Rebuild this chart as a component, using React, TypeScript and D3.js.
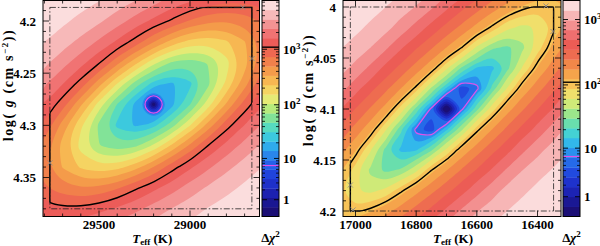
import React from 'react';
import * as d3 from 'd3';

// left map: Teff nodes (columns), log g nodes (rows), Δχ² per node
const teffLeft = [29800, 29700, 29600, 29500, 29400, 29300, 29200, 29100, 29000, 28900, 28800, 28700, 28600];
const loggLeft = [4.18, 4.2, 4.22, 4.24, 4.26, 4.28, 4.3, 4.32, 4.34, 4.36, 4.38, 4.4];
const chi2Left = [
  [7500, 6800, 6000, 5200, 4300, 3500, 2750, 2100, 1700, 1400, 1220, 1190, 1280],
  [6400, 5500, 4550, 3680, 2780, 2000, 1440, 1020, 700, 542, 505, 580, 780],
  [5100, 4090, 3110, 2190, 1480, 930, 500, 286, 196, 174, 212, 324, 585],
  [3780, 2730, 1810, 1130, 558, 253, 117, 66.5, 55.7, 71.6, 132, 286, 640],
  [2500, 1610, 930, 394, 152, 59, 27.5, 19.7, 28.8, 63.4, 165, 422, 990],
  [1570, 870, 356, 129, 46.3, 18.2, 0, 18.2, 46.3, 129, 356, 870, 1570],
  [990, 422, 165, 63.4, 28.8, 19.7, 27.5, 59, 152, 394, 930, 1610, 2500],
  [640, 286, 132, 71.6, 55.7, 66.5, 117, 253, 558, 1130, 1810, 2730, 3780],
  [585, 324, 212, 174, 196, 286, 500, 930, 1480, 2190, 3110, 4090, 5100],
  [780, 580, 505, 542, 700, 1020, 1440, 2000, 2780, 3680, 4550, 5500, 6400],
  [1280, 1190, 1220, 1400, 1700, 2100, 2750, 3500, 4300, 5200, 6000, 6800, 7500],
  [2040, 2070, 2240, 2580, 3040, 3660, 4290, 5060, 5820, 6570, 7200, 7880, 8580],
];

// right map
const teffRight = [17050, 17000, 16950, 16900, 16850, 16800, 16750, 16700, 16650, 16600, 16550, 16500, 16450, 16400, 16350, 16300];
const loggRight = [3.98, 4.0, 4.02, 4.04, 4.06, 4.08, 4.1, 4.12, 4.14, 4.16, 4.18, 4.2, 4.22];
const chi2Right = [
  [2110, 1970, 1810, 1670, 1490, 1280, 1100, 856, 649, 474, 355, 275, 214, 175, 154, 153],
  [1900, 1740, 1600, 1380, 1180, 958, 731, 525, 380, 283, 208, 154, 120, 103, 108, 131],
  [1680, 1510, 1280, 1090, 832, 609, 429, 310, 222, 154, 103, 67.4, 56, 65.2, 98.1, 148],
  [1410, 1200, 974, 729, 511, 358, 255, 172, 109, 56, 32.2, 27.8, 39.6, 73.7, 133, 204],
  [1120, 868, 634, 435, 306, 208, 131, 65.2, 27.8, 13.7, 13.3, 26.6, 63.1, 127, 204, 300],
  [785, 554, 382, 266, 173, 98.9, 39.9, 13.3, 3.24, 6.19, 23, 63.1, 133, 214, 316, 454],
  [496, 343, 235, 148, 73.7, 26.6, 6.19, 0, 6.19, 26.6, 73.7, 148, 235, 343, 496, 721],
  [316, 214, 133, 63.1, 23, 6.19, 3.24, 13.3, 39.9, 98.9, 173, 266, 382, 554, 785, 1060],
  [204, 127, 63.1, 26.6, 13.3, 13.7, 27.8, 65.2, 131, 208, 306, 435, 634, 868, 1120, 1330],
  [133, 73.7, 39.6, 27.8, 32.2, 56, 109, 172, 255, 358, 511, 729, 974, 1200, 1410, 1630],
  [98.1, 65.2, 56, 67.4, 103, 154, 222, 310, 429, 609, 832, 1090, 1280, 1510, 1680, 1830],
  [108, 103, 120, 154, 208, 283, 380, 525, 731, 958, 1180, 1380, 1600, 1740, 1900, 2050],
  [154, 175, 214, 275, 355, 474, 649, 856, 1100, 1280, 1490, 1670, 1810, 1970, 2110, 2250],
];

const teffTicksLeft = [29500, 29000];
const loggTicksLeft = [4.2, 4.25, 4.3, 4.35];
const teffTicksRight = [17000, 16800, 16600, 16400];
const loggTicksRight = [4, 4.05, 4.1, 4.15, 4.2];
const chi2Ticks = [1, 10, 100, 1000];

const chi2TopLeft = 7500;
const chi2TopRight = 1950;
const blackLevelLeft = 1090;
const blackLevelRight = 110;
const magentaLevel = 7.2;

// model grid edges (dash-dot box)
const gridTeffLeft = [29770, 28660];
const gridLoggLeft = [4.187, 4.38];
const gridTeffRight = [17017, 16347];
const gridLoggRight = [4.0, 4.2];

const marksLeft = [[29769, 4.336], [28659, 4.236], [28710, 4.187]];
const marksRight = [[17017, 4.1745], [17008, 4.199], [16372, 3.999], [16349, 4.024]];

const serif = '"Liberation Serif", "Times New Roman", serif';

const ramp = d3.scaleLinear<string>()
  .domain([0, 0.06, 0.12, 0.18, 0.24, 0.3, 0.35, 0.4, 0.45, 0.5, 0.55, 0.6, 0.65, 0.7, 0.75, 0.8, 0.85, 0.9, 0.95, 1])
  .range(['#1b0b68', '#1a168e', '#1c24b8', '#1f3ad8', '#2462e8', '#2b94ee', '#33c0ea', '#4ad8cc', '#7ae29c', '#b6ea7c',
    '#ecea74', '#f8cc5c', '#f6aa4c', '#f28a48', '#ee6c50', '#ec5a56', '#f07474', '#f49a9a', '#f8c6c6', '#fdeeee'])
  .interpolate(d3.interpolateRgb);

const Y0 = 0.5;
const Y1 = 216.5;

function minorTicks(a: number, b: number, step: number) {
  const lo = Math.min(a, b), hi = Math.max(a, b);
  return d3.range(Math.ceil(lo / step - 1e-6), Math.floor(hi / step + 1e-6) + 1).map(i => +(i * step).toFixed(4));
}

function Panel(p: any) {
  const x = d3.scaleLinear().domain(p.xRef).range(p.xPix);
  const y = d3.scaleLinear().domain(p.yRef).range(p.yPix);
  const nx = p.teff.length, ny = p.logg.length;
  const gx = d3.scaleLinear().domain([0.5, nx - 0.5]).range([x(p.teff[0]), x(p.teff[nx - 1])]);
  const gy = d3.scaleLinear().domain([0.5, ny - 0.5]).range([y(p.logg[0]), y(p.logg[ny - 1])]);
  // space in which the grid is contoured
  const warp = p.warp === 'log' ? (v: number) => Math.log10(1 + v) : (v: number) => Math.sqrt(v);
  const vals = p.chi2.flat().map((v: number) => -warp(v));
  const gen = d3.contours().size([nx, ny]);
  const line = d3.line().curve(p.warp === 'log' ? d3.curveBasisClosed : d3.curveCatmullRomClosed.alpha(0.5));
  const toPath = (level: number) => {
    const g = gen.contour(vals, -warp(level));
    return g.coordinates.map(poly => poly.map(ring =>
      line(ring.slice(0, -1).map(([a, b]) => [gx(a), gy(b)] as [number, number])) || '').join('')).join('');
  };

  const cb = d3.scaleSymlog().constant(1).domain([0, p.top]).range([Y1, Y0]);
  const n = p.bands;
  const bandH = (Y1 - Y0) / n;
  const edges = d3.range(n + 1).map(k => cb.invert(Y1 - k * bandH));
  const color = (k: number) => ramp((k + 0.5) / n);
  const fills = d3.range(n - 1, 0, -1).map(k => ({ d: toPath(edges[k]), fill: color(k - 1) }));
  const blackD = toPath(p.blackLevel);
  const magentaD = toPath(magentaLevel);

  const gxa = x(p.gridTeff[0]), gxb = x(p.gridTeff[1]);
  const gya = y(p.gridLogg[0]), gyb = y(p.gridLogg[1]);
  const box = { x: Math.min(gxa, gxb), y: Math.min(gya, gyb), width: Math.abs(gxb - gxa), height: Math.abs(gyb - gya) };

  const xMinor = minorTicks(x.invert(p.x0), x.invert(p.x1), p.xStep);
  const yMinor = minorTicks(y.invert(Y0), y.invert(Y1), p.yStep);
  const isMajor = (v: number, list: number[]) => list.some(t => Math.abs(t - v) < 1e-6);

  const cbMinor: number[] = [];
  [1, 10, 100, 1000].forEach(dec => d3.range(2, 10).forEach(m => { if (m * dec <= p.top) cbMinor.push(m * dec); }));

  const id = p.id;
  const tickLabel = (v: number) => v < 100 ? <tspan>{v}</tspan> : <tspan>10<tspan dy={-5} fontSize={9}>{Math.round(Math.log10(v))}</tspan></tspan>;

  return (
    <g>
      <defs>
        <clipPath id={`plot-${id}`}><rect x={p.x0} y={Y0} width={p.x1 - p.x0} height={Y1 - Y0} /></clipPath>
        <clipPath id={`grid-${id}`}><rect {...box} /></clipPath>
        <clipPath id={`black-${id}`}><path d={blackD} /></clipPath>
      </defs>
      <g clipPath={`url(#plot-${id})`}>
        <rect x={p.x0} y={Y0} width={p.x1 - p.x0} height={Y1 - Y0} fill={color(n - 1)} />
        {fills.map((f, i) => <path key={i} d={f.d} fill={f.fill} fillRule="evenodd" />)}
        <path d={magentaD} fill="none" stroke="#e050e8" strokeWidth={1.2} />
        <path d={blackD} fill="none" stroke="#000" strokeWidth={1.4} clipPath={`url(#grid-${id})`} />
        <rect {...box} fill="none" stroke="#000" strokeWidth={1.4} clipPath={`url(#black-${id})`} />
        <rect {...box} fill="none" stroke="#222" strokeWidth={0.8} strokeDasharray="6 2 1.5 2" />
        {p.marks.map(([t, g]: number[], i: number) => {
          const cx = x(t), cy = y(g);
          return <path key={i} d={`M${cx - 2.5},${cy - 2.5}L${cx + 2.5},${cy + 2.5}M${cx - 2.5},${cy + 2.5}L${cx + 2.5},${cy - 2.5}`} stroke="#8a8a8a" strokeWidth={0.9} />;
        })}
      </g>
      <rect x={p.x0} y={Y0} width={p.x1 - p.x0} height={Y1 - Y0} fill="none" stroke="#000" strokeWidth={1} />
      {xMinor.map(v => {
        const len = isMajor(v, p.xTicks) ? 6 : 3;
        return <g key={'x' + v}>
          <line x1={x(v)} x2={x(v)} y1={Y1} y2={Y1 - len} stroke="#000" strokeWidth={0.8} />
          <line x1={x(v)} x2={x(v)} y1={Y0} y2={Y0 + len} stroke="#000" strokeWidth={0.8} />
        </g>;
      })}
      {yMinor.map(v => {
        const len = isMajor(v, p.yTicks) ? 6 : 3;
        return <g key={'y' + v}>
          <line x1={p.x0} x2={p.x0 + len} y1={y(v)} y2={y(v)} stroke="#000" strokeWidth={0.8} />
          <line x1={p.x1} x2={p.x1 - len} y1={y(v)} y2={y(v)} stroke="#000" strokeWidth={0.8} />
        </g>;
      })}
      {p.xTicks.map((v: number) => <text key={'xl' + v} x={x(v)} y={228.5} textAnchor="middle" fontSize={13} fontWeight="bold" fontFamily={serif}>{v}</text>)}
      {p.yTicks.map((v: number) => <text key={'yl' + v} x={p.x0 - 7} y={y(v) + 4.5} textAnchor="end" fontSize={13} fontWeight="bold" fontFamily={serif}>{v}</text>)}
      <text x={(p.x0 + p.x1) / 2 + 1} y={242.5} textAnchor="middle" fontSize={13} fontWeight="bold" fontFamily={serif}>
        <tspan fontStyle="italic">T</tspan><tspan dy={2} fontSize={9}>eff</tspan><tspan dy={-2}> (K)</tspan>
      </text>
      <text transform={`translate(${p.titleX},${p.titleY}) rotate(-90)`} textAnchor="middle" fontSize={14} fontWeight="bold" fontFamily={serif} letterSpacing={1.6}>
        log( <tspan fontStyle="italic">g</tspan> (cm s<tspan dy={-5} fontSize={9}>−2</tspan><tspan dy={5}>))</tspan>
      </text>

      {/* colour bar */}
      {d3.range(n).map(k => <rect key={'b' + k} x={p.cb0} y={Y1 - (k + 1) * bandH} width={p.cb1 - p.cb0} height={bandH + 0.3} fill={color(k)} />)}
      {cbMinor.map(v => <g key={'cm' + v}>
        <line x1={p.cb0} x2={p.cb0 + 3} y1={cb(v)} y2={cb(v)} stroke="#000" strokeWidth={0.8} />
        <line x1={p.cb1} x2={p.cb1 - 3} y1={cb(v)} y2={cb(v)} stroke="#000" strokeWidth={0.8} />
      </g>)}
      {chi2Ticks.map(v => <g key={'cM' + v}>
        <line x1={p.cb0} x2={p.cb0 + 5} y1={cb(v)} y2={cb(v)} stroke="#000" strokeWidth={0.9} />
        <line x1={p.cb1} x2={p.cb1 - 5} y1={cb(v)} y2={cb(v)} stroke="#000" strokeWidth={0.9} />
        <text x={p.cb1 + 4} y={cb(v) + 4.5} fontSize={13} fontWeight="bold" fontFamily={serif}>{tickLabel(v)}</text>
      </g>)}
      <line x1={p.cb0} x2={p.cb1} y1={cb(magentaLevel)} y2={cb(magentaLevel)} stroke="#e050e8" strokeWidth={1.2} />
      <line x1={p.cb0} x2={p.cb1} y1={cb(p.blackLevel)} y2={cb(p.blackLevel)} stroke="#000" strokeWidth={1.4} />
      <rect x={p.cb0} y={Y0} width={p.cb1 - p.cb0} height={Y1 - Y0} fill="none" stroke="#000" strokeWidth={1} />
      <text x={(p.cb0 + p.cb1) / 2} y={242} textAnchor="middle" fontSize={13} fontWeight="bold" fontFamily={serif}>
        Δ<tspan fontStyle="italic">χ</tspan><tspan dy={-5} fontSize={9}>2</tspan>
      </text>
    </g>
  );
}

export default function App() {
  return (
    <svg width={600} height={246} style={{ position: 'absolute', left: 0, top: 0, background: '#fff' }}>
      <Panel id="l" teff={teffLeft} logg={loggLeft} chi2={chi2Left} warp="log"
        x0={43} x1={259.5} cb0={262} cb1={279}
        xRef={[29500, 29000]} xPix={[99, 190]} yRef={[4.2, 4.35]} yPix={[21, 177.5]}
        xTicks={teffTicksLeft} yTicks={loggTicksLeft} xStep={100} yStep={0.01}
        top={chi2TopLeft} bands={23} blackLevel={blackLevelLeft}
        gridTeff={gridTeffLeft} gridLogg={gridLoggLeft} marks={marksLeft}
        titleX={13} titleY={85} />
      <Panel id="r" teff={teffRight} logg={loggRight} chi2={chi2Right} warp="sqrt"
        x0={343} x1={561} cb0={563} cb1={580}
        xRef={[17000, 16400]} xPix={[355.5, 537.5]} yRef={[4.0, 4.2]} yPix={[7, 211]}
        xTicks={teffTicksRight} yTicks={loggTicksRight} xStep={100} yStep={0.01}
        top={chi2TopRight} bands={22} blackLevel={blackLevelRight}
        gridTeff={gridTeffRight} gridLogg={gridLoggRight} marks={marksRight}
        titleX={313} titleY={90} />
    </svg>
  );
}
